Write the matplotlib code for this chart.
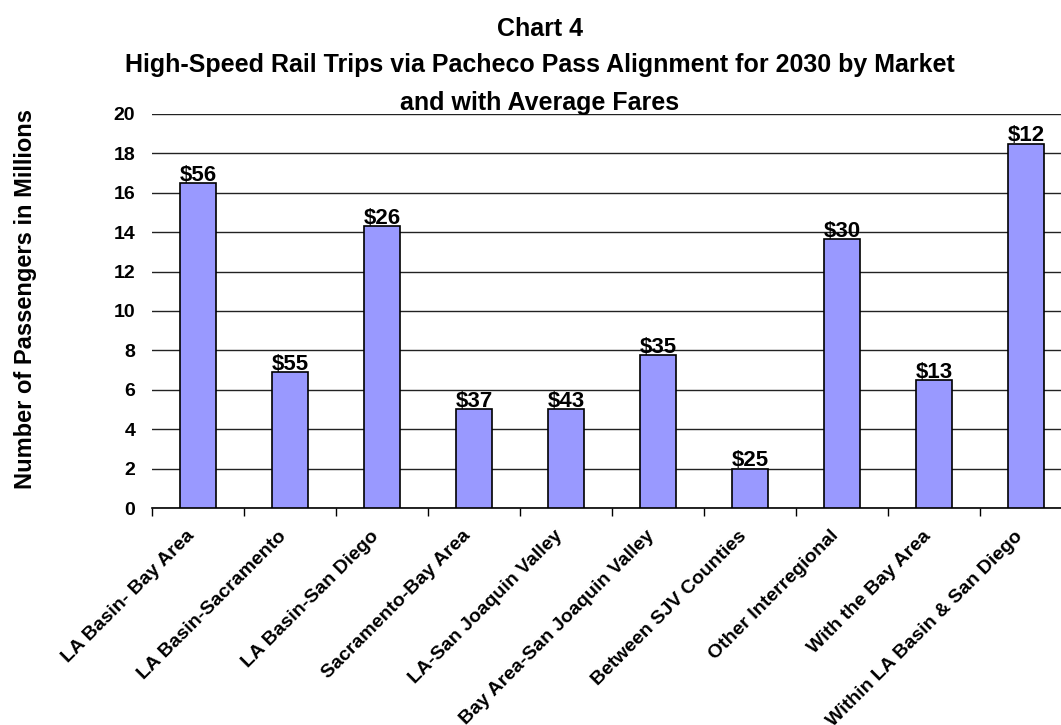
import matplotlib
matplotlib.use("Agg")
import matplotlib.pyplot as plt
import matplotlib.transforms as mtransforms
import numpy as np

plt.rcParams['font.family'] = ['Liberation Sans', 'DejaVu Sans']

markets = ["LA Basin- Bay Area", "LA Basin-Sacramento", "LA Basin-San Diego",
           "Sacramento-Bay Area", "LA-San Joaquin Valley", "Bay Area-San Joaquin Valley",
           "Between SJV Counties", "Other Interregional", "With the Bay Area",
           "Within LA Basin & San Diego"]
passengers = [16.5, 6.9, 14.3, 5.0, 5.0, 7.75, 2.0, 13.65, 6.5, 18.5]
fares = ["$56", "$55", "$26", "$37", "$43", "$35", "$25", "$30", "$13", "$12"]
yticks = list(range(0, 21, 2))

fig = plt.figure(figsize=(10.61, 7.25), dpi=100)
ax = fig.add_axes([0.1433, 0.2993, 0.867, 0.5435])

x = np.arange(len(markets))
bars = ax.bar(x, passengers, width=0.4, color="#9999FF", edgecolor="black",
              linewidth=1.2, zorder=3)

for b, f in zip(bars, fares):
    ax.annotate(f, (b.get_x() + b.get_width() / 2, b.get_height()),
                xytext=(0, -2), textcoords="offset points",
                ha="center", va="bottom", fontsize=16, fontweight="bold", zorder=4)

ax.set_xlim(-0.5, len(markets) - 0.5)
ax.set_ylim(0, 20)
ax.set_yticks(yticks)
ax.set_yticklabels([str(t) for t in yticks], fontsize=14, fontweight="bold")
ax.tick_params(axis="y", length=0, pad=12)
ax.yaxis.grid(True, color="#222222", linewidth=1)
ax.set_axisbelow(True)

ax.set_xticks(x)
ax.set_xticklabels(markets, rotation=45, ha="right", rotation_mode="anchor",
                   fontsize=14, fontweight="bold")
ax.tick_params(axis="x", length=0, pad=14)
ax.set_xticks(np.arange(len(markets) + 1) - 0.5, minor=True)
ax.tick_params(axis="x", which="minor", length=6, width=1)

# nudge rotated labels left so their ends sit under the bar centres
shift = mtransforms.ScaledTranslation(-0.12, 0, fig.dpi_scale_trans)
for lbl in ax.get_xticklabels():
    lbl.set_transform(lbl.get_transform() + shift)

for s in ["top", "right", "left"]:
    ax.spines[s].set_visible(False)
ax.spines["bottom"].set_linewidth(1.2)

ax.set_ylabel("Number of Passengers in Millions", fontsize=17, fontweight="bold")
ax.yaxis.set_label_coords(-0.125, 0.53)

fig.text(0.509, 0.950, "Chart 4", ha="center", va="baseline", fontsize=18, fontweight="bold")
fig.text(0.509, 0.901, "High-Speed Rail Trips via Pacheco Pass Alignment for 2030 by Market",
         ha="center", va="baseline", fontsize=18, fontweight="bold")
fig.text(0.509, 0.848, "and with Average Fares", ha="center", va="baseline",
         fontsize=18, fontweight="bold")

fig.savefig("out.png", dpi=100)
